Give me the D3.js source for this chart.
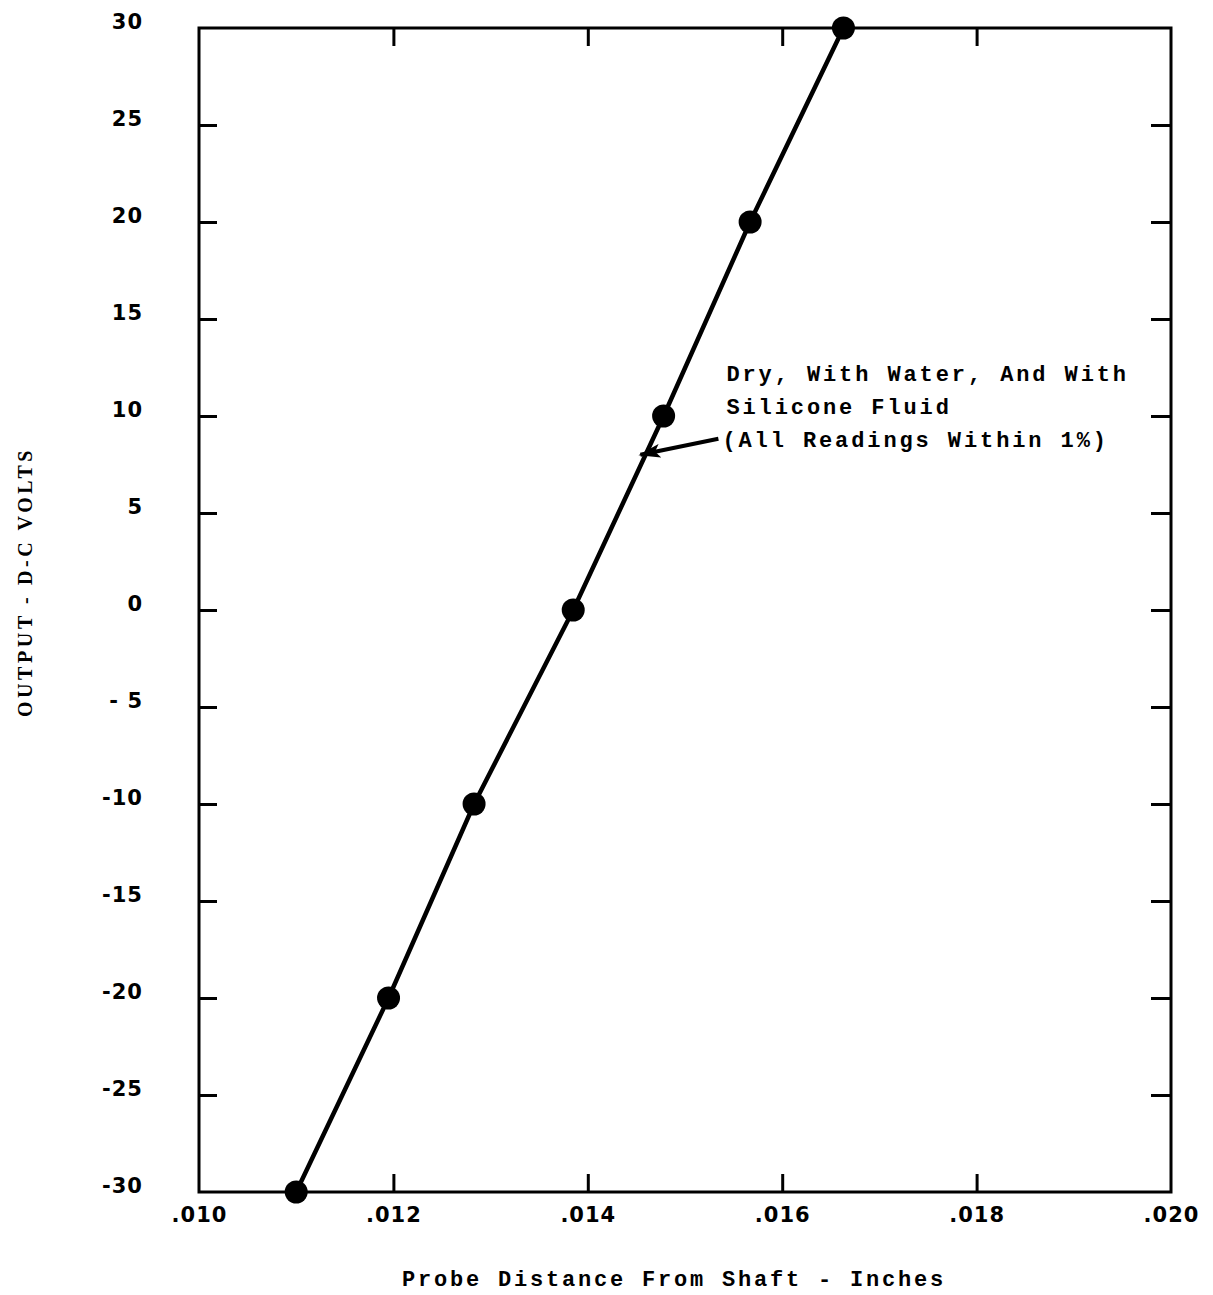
<!DOCTYPE html>
<html>
<head>
<meta charset="utf-8">
<script src="https://cdn.jsdelivr.net/npm/d3@7"></script>
<style>
  body { margin: 0; background: #fff; }
</style>
</head>
<body>
<div id="chart"></div>
<script>
// data
var distance = [0.01100, 0.01195, 0.01283, 0.01385, 0.01478, 0.01567, 0.01663];
var output = [-30, -20, -10, 0, 10, 20, 30];
var xTicks = [0.010, 0.012, 0.014, 0.016, 0.018, 0.020];
var yTicks = [30, 25, 20, 15, 10, 5, 0, -5, -10, -15, -20, -25, -30];
var yTickLabels = ["30", "25", "20", "15", "10", "5", "0", "- 5", "-10", "-15", "-20", "-25", "-30"];
var noteLines = ["Dry, With Water, And With", "Silicone Fluid", "(All Readings Within 1%)"];
var arrowTip = {x: 0.01450, y: 8};

var margin = {top: 28, right: 42, bottom: 103, left: 199},
    width = 1213 - margin.left - margin.right,
    height = 1295 - margin.top - margin.bottom;

var svg = d3.select("#chart")
  .append("svg")
    .attr("width", 1213)
    .attr("height", 1295)
  .append("g")
    .attr("transform", "translate(" + margin.left + "," + margin.top + ")");

var x = d3.scaleLinear().domain([0.010, 0.020]).range([0, width]);
var y = d3.scaleLinear().domain([-30, 30]).range([height, 0]);

var tickFont = "'DejaVu Sans', sans-serif";

// bottom axis, ticks pointing in
var xAxis = svg.append("g")
  .attr("transform", "translate(0," + height + ")")
  .call(d3.axisBottom(x).tickValues(xTicks).tickSize(-18).tickPadding(15)
    .tickFormat(function(d) { return d3.format(".3f")(d).replace("0.", "."); }));
xAxis.select(".domain").remove();
xAxis.selectAll("text")
  .style("font-family", tickFont).style("font-weight", "bold")
  .style("font-size", "21px").style("letter-spacing", "1px").attr("fill", "#000");

// top axis, ticks only
var xTop = svg.append("g")
  .call(d3.axisTop(x).tickValues(xTicks).tickSize(-18).tickFormat(""));
xTop.select(".domain").remove();

// left axis
var yAxis = svg.append("g")
  .call(d3.axisLeft(y).tickValues(yTicks).tickSize(-18).tickPadding(56)
    .tickFormat(function(d, i) { return yTickLabels[i]; }));
yAxis.select(".domain").remove();
yAxis.selectAll("text")
  .attr("dy", "0.02em")
  .style("font-family", tickFont).style("font-weight", "bold")
  .style("font-size", "21px").style("letter-spacing", "1px").attr("fill", "#000");

// right axis, ticks only
var yRight = svg.append("g")
  .attr("transform", "translate(" + width + ",0)")
  .call(d3.axisRight(y).tickValues(yTicks).tickSize(-20).tickFormat(""));
yRight.select(".domain").remove();

svg.selectAll(".tick line")
  .attr("stroke", "#000").attr("stroke-width", 3);
// no ticks on the frame corners
svg.selectAll(".tick").filter(function(d) {
  return d === 30 || d === -30 || d === 0.010 || d === 0.020;
}).select("line").remove();

// frame
svg.append("rect")
  .attr("x", 0).attr("y", 0)
  .attr("width", width).attr("height", height)
  .attr("fill", "none").attr("stroke", "#000").attr("stroke-width", 3);

// the calibration line
var pts = distance.map(function(d, i) { return {x: d, y: output[i]}; });
svg.append("path")
  .datum(pts)
  .attr("fill", "none")
  .attr("stroke", "#000")
  .attr("stroke-width", 4.5)
  .attr("d", d3.line()
    .x(function(d) { return x(d.x); })
    .y(function(d) { return y(d.y); }));

svg.selectAll("circle.pt")
  .data(pts)
  .enter().append("circle")
    .attr("class", "pt")
    .attr("cx", function(d) { return x(d.x); })
    .attr("cy", function(d) { return y(d.y); })
    .attr("r", 11.5)
    .attr("fill", "#000");

// annotation
var monoFont = "'Liberation Mono', 'DejaVu Sans Mono', monospace";
var tipX = x(arrowTip.x), tipY = y(arrowTip.y);

svg.append("defs").append("marker")
  .attr("id", "head")
  .attr("viewBox", "0 0 22 14")
  .attr("refX", 20).attr("refY", 7)
  .attr("markerWidth", 22).attr("markerHeight", 14)
  .attr("markerUnits", "userSpaceOnUse")
  .attr("orient", "auto")
  .append("path")
    .attr("d", "M0,0 L22,7 L0,14 L5,7 Z")
    .attr("fill", "#000");

svg.append("line")
  .attr("x1", tipX + 82).attr("y1", tipY - 16)
  .attr("x2", tipX + 4).attr("y2", tipY)
  .attr("stroke", "#000").attr("stroke-width", 4)
  .attr("marker-end", "url(#head)");

svg.append("g")
  .selectAll("text")
  .data(noteLines)
  .enter().append("text")
    .attr("x", function(d, i) { return tipX + (i === 2 ? 86 : 90); })
    .attr("y", function(d, i) { return tipY - 74 + i * 33; })
    .style("font-family", monoFont)
    .style("font-weight", "bold")
    .style("font-size", "22px")
    .style("letter-spacing", "2.9px")
    .text(function(d) { return d; });

// axis titles
svg.append("text")
  .attr("x", width / 2 - 11)
  .attr("y", height + 94)
  .style("text-anchor", "middle")
  .style("font-family", monoFont)
  .style("font-weight", "bold")
  .style("font-size", "22px")
  .style("letter-spacing", "2.8px")
  .text("Probe Distance From Shaft - Inches");

svg.append("text")
  .attr("transform", "rotate(-90)")
  .attr("x", -(height / 2) + 28)
  .attr("y", -margin.left + 32)
  .style("text-anchor", "middle")
  .style("font-family", "'Liberation Serif', serif")
  .style("font-weight", "bold")
  .style("font-size", "20px")
  .style("letter-spacing", "3.6px")
  .text("OUTPUT - D-C VOLTS");
</script>
</body>
</html>
